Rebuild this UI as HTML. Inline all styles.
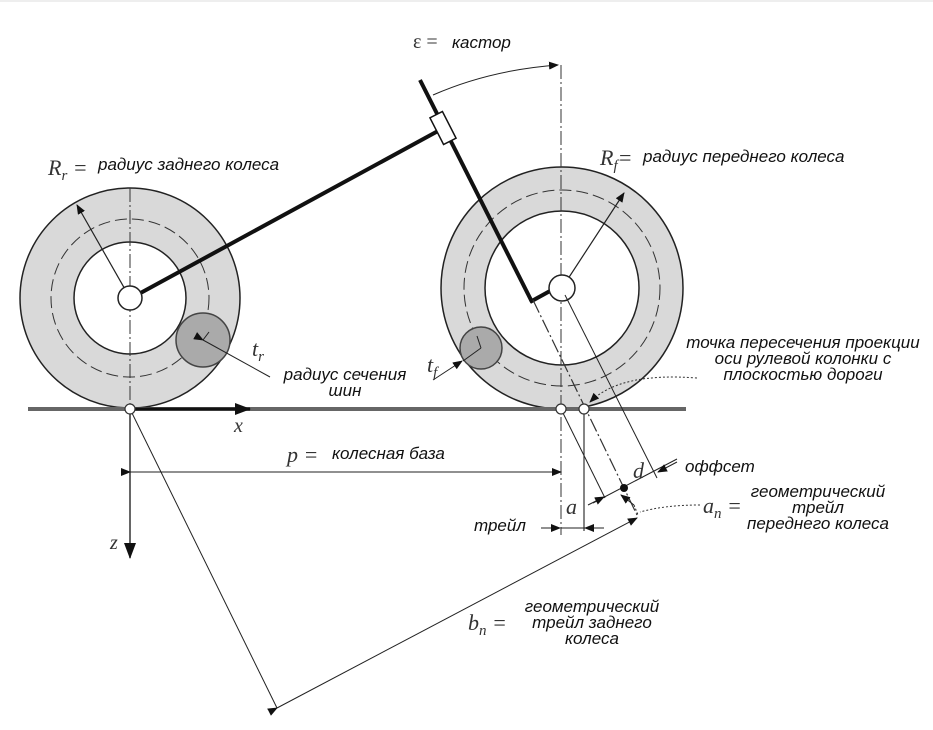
<!DOCTYPE html>
<html><head><meta charset="utf-8"><style>
html,body{margin:0;padding:0;background:#fff;}
svg{display:block;}
.t{font-family:"Liberation Sans","DejaVu Sans",sans-serif;font-style:italic;font-size:17px;fill:#111;}
.m{font-family:"Liberation Serif",serif;font-style:italic;font-size:22px;fill:#333;}
</style></head><body>
<svg width="933" height="730" viewBox="0 0 933 730" xmlns="http://www.w3.org/2000/svg">
<defs>
<marker id="ah" markerWidth="10" markerHeight="8" refX="9" refY="4" orient="auto" markerUnits="userSpaceOnUse"><path d="M0,0 L10,4 L0,8 Z" fill="#111"/></marker>
<marker id="ahb" markerWidth="16" markerHeight="12" refX="15" refY="6" orient="auto" markerUnits="userSpaceOnUse"><path d="M0,0 L16,6 L0,12 Z" fill="#111"/></marker>
</defs>
<line x1="0" y1="1" x2="933" y2="1" stroke="#ddd" stroke-width="1"/>
<!-- rear wheel -->
<circle cx="130" cy="298" r="110" fill="#d9d9d9" stroke="#222" stroke-width="1.5"/>
<circle cx="130" cy="298" r="56" fill="#fff" stroke="#222" stroke-width="1.5"/>
<circle cx="130" cy="298" r="79" fill="none" stroke="#333" stroke-width="1" stroke-dasharray="12,5"/>
<circle cx="203" cy="340" r="27" fill="#aaa" stroke="#444" stroke-width="1.5"/>
<line x1="203" y1="340" x2="209" y2="332" stroke="#222"/>
<line x1="203" y1="340" x2="270" y2="377" stroke="#222" marker-start="url(#ah)"/>
<line x1="130" y1="298" x2="77" y2="205" stroke="#222" stroke-width="1.2" marker-end="url(#ah)"/>
<!-- front wheel -->
<circle cx="562" cy="288" r="121" fill="#d9d9d9" stroke="#222" stroke-width="1.5"/>
<circle cx="562" cy="288" r="77" fill="#fff" stroke="#222" stroke-width="1.5"/>
<circle cx="562" cy="288" r="98" fill="none" stroke="#333" stroke-width="1" stroke-dasharray="12,5"/>
<circle cx="481" cy="348" r="21" fill="#aaa" stroke="#444" stroke-width="1.5"/>
<line x1="481" y1="348" x2="477" y2="336" stroke="#222"/>
<line x1="481" y1="348" x2="463" y2="361" stroke="#222"/>
<line x1="433" y1="380" x2="462" y2="361" stroke="#222" marker-end="url(#ah)"/>
<line x1="562" y1="288" x2="624" y2="193" stroke="#222" stroke-width="1.2" marker-end="url(#ah)"/>
<!-- vertical dash-dot lines -->
<line x1="130" y1="188" x2="130" y2="408" stroke="#333" stroke-width="1" stroke-dasharray="14,3,2,3"/>
<line x1="561" y1="65" x2="561" y2="535" stroke="#333" stroke-width="1" stroke-dasharray="14,3,2,3"/>
<!-- ground -->
<line x1="28" y1="409" x2="686" y2="409" stroke="#666" stroke-width="4"/>
<line x1="130" y1="409" x2="250" y2="409" stroke="#111" stroke-width="3" marker-end="url(#ahb)"/>
<!-- z axis -->
<line x1="130" y1="409" x2="130" y2="558" stroke="#333" stroke-width="1.5" marker-end="url(#ahb)"/>
<!-- frame -->
<line x1="135" y1="296" x2="438" y2="131" stroke="#111" stroke-width="4"/>
<!-- steering -->
<line x1="420" y1="80" x2="532" y2="302" stroke="#111" stroke-width="4"/>
<line x1="530" y1="302" x2="550" y2="291" stroke="#111" stroke-width="4"/>
<rect x="-7" y="-15" width="14" height="30" fill="#fff" stroke="#111" stroke-width="1.5" transform="translate(443,128) rotate(-27)"/>
<circle cx="130" cy="298" r="12" fill="#fff" stroke="#222" stroke-width="1.5"/>
<circle cx="562" cy="288" r="13" fill="#fff" stroke="#222" stroke-width="1.5"/>
<!-- caster arc -->
<path d="M433,95 Q490,70 558,65" fill="none" stroke="#222" stroke-width="1" marker-end="url(#ah)"/>
<!-- steering axis dash-dot -->
<line x1="533" y1="300" x2="637" y2="515" stroke="#333" stroke-width="1.2" stroke-dasharray="14,3,2,3"/>
<!-- line through hub parallel -->
<line x1="565" y1="295" x2="657" y2="478" stroke="#222" stroke-width="1"/>
<!-- line from contact parallel -->
<line x1="561" y1="409" x2="605" y2="498" stroke="#222" stroke-width="1"/>
<!-- normal with dot -->
<line x1="593" y1="503" x2="677" y2="459" stroke="#222" stroke-width="1"/>
<line x1="640" y1="497" x2="604" y2="498" stroke="none"/>
<circle cx="624" cy="488" r="4" fill="#111"/>
<line x1="588" y1="505" x2="604" y2="497" stroke="#222" marker-end="url(#ah)"/>
<line x1="677" y1="462" x2="658" y2="472" stroke="#222" marker-end="url(#ah)"/>
<line x1="634" y1="505" x2="621" y2="495" stroke="#222" marker-end="url(#ah)"/>
<line x1="634" y1="505" x2="638" y2="515" stroke="#222" stroke-dasharray="2,2"/>
<!-- trail -->
<line x1="584" y1="409" x2="584" y2="531" stroke="#333" stroke-width="1.2"/>
<line x1="541" y1="528" x2="560" y2="528" stroke="#222" marker-end="url(#ah)"/>
<line x1="561" y1="528" x2="604" y2="528" stroke="#222"/>
<line x1="604" y1="528" x2="585" y2="528" stroke="#222" marker-end="url(#ah)"/>
<!-- p dimension -->
<line x1="130" y1="472" x2="561" y2="472" stroke="#222" stroke-width="1" marker-start="url(#ah)" marker-end="url(#ah)"/>
<!-- b_n -->
<line x1="130" y1="409" x2="277" y2="708" stroke="#222" stroke-width="1"/>
<line x1="277" y1="708" x2="637" y2="518" stroke="#222" stroke-width="1" marker-start="url(#ah)" marker-end="url(#ah)"/>
<!-- contact points -->
<circle cx="130" cy="409" r="5" fill="#fff" stroke="#333" stroke-width="1.2"/>
<circle cx="561" cy="409" r="5" fill="#fff" stroke="#333" stroke-width="1.2"/>
<circle cx="584" cy="409" r="5" fill="#fff" stroke="#333" stroke-width="1.2"/>
<!-- dotted pointers -->
<path d="M697,378 Q620,372 590,402" fill="none" stroke="#333" stroke-dasharray="2,2" marker-end="url(#ah)"/>
<path d="M700,505 Q665,505 640,512" fill="none" stroke="#333" stroke-dasharray="2,2"/>
<!-- text -->
<text x="413" y="48" class="m" style="font-style:normal;font-size:20px">ε =</text><text x="452" y="48" class="t">кастор</text>
<text x="48" y="175" class="m">R<tspan font-size="15" dy="5">r</tspan><tspan dy="-5"> =</tspan></text><text x="98" y="170" class="t">радиус заднего колеса</text>
<text x="600" y="165" class="m">R<tspan font-size="15" dy="5">f</tspan><tspan dy="-5">=</tspan></text><text x="643" y="162" class="t">радиус переднего колеса</text>
<text x="252" y="356" class="m">t<tspan font-size="15" dy="5">r</tspan></text>
<text x="345" y="380" class="t" text-anchor="middle">радиус сечения</text>
<text x="345" y="396" class="t" text-anchor="middle">шин</text>
<text x="427" y="372" class="m">t<tspan font-size="15" dy="5">f</tspan></text>
<text x="803" y="348" class="t" text-anchor="middle">точка пересечения проекции</text>
<text x="803" y="364" class="t" text-anchor="middle">оси рулевой колонки с</text>
<text x="803" y="380" class="t" text-anchor="middle">плоскостью дороги</text>
<text x="633" y="478" class="m">d</text>
<text x="685" y="472" class="t">оффсет</text>
<text x="703" y="513" class="m">a<tspan font-size="15" dy="5">n</tspan><tspan dy="-5"> =</tspan></text>
<text x="818" y="497" class="t" text-anchor="middle">геометрический</text>
<text x="818" y="513" class="t" text-anchor="middle">трейл</text>
<text x="818" y="529" class="t" text-anchor="middle">переднего колеса</text>
<text x="566" y="514" class="m">a</text>
<text x="474" y="531" class="t">трейл</text>
<text x="234" y="432" class="m" style="font-size:20px">x</text>
<text x="110" y="549" class="m" style="font-size:20px">z</text>
<text x="287" y="462" class="m">p =</text><text x="332" y="459" class="t">колесная база</text>
<text x="468" y="630" class="m">b<tspan font-size="15" dy="5">n</tspan><tspan dy="-5"> =</tspan></text>
<text x="592" y="612" class="t" text-anchor="middle">геометрический</text>
<text x="592" y="628" class="t" text-anchor="middle">трейл заднего</text>
<text x="592" y="644" class="t" text-anchor="middle">колеса</text>
</svg>
</body></html>
